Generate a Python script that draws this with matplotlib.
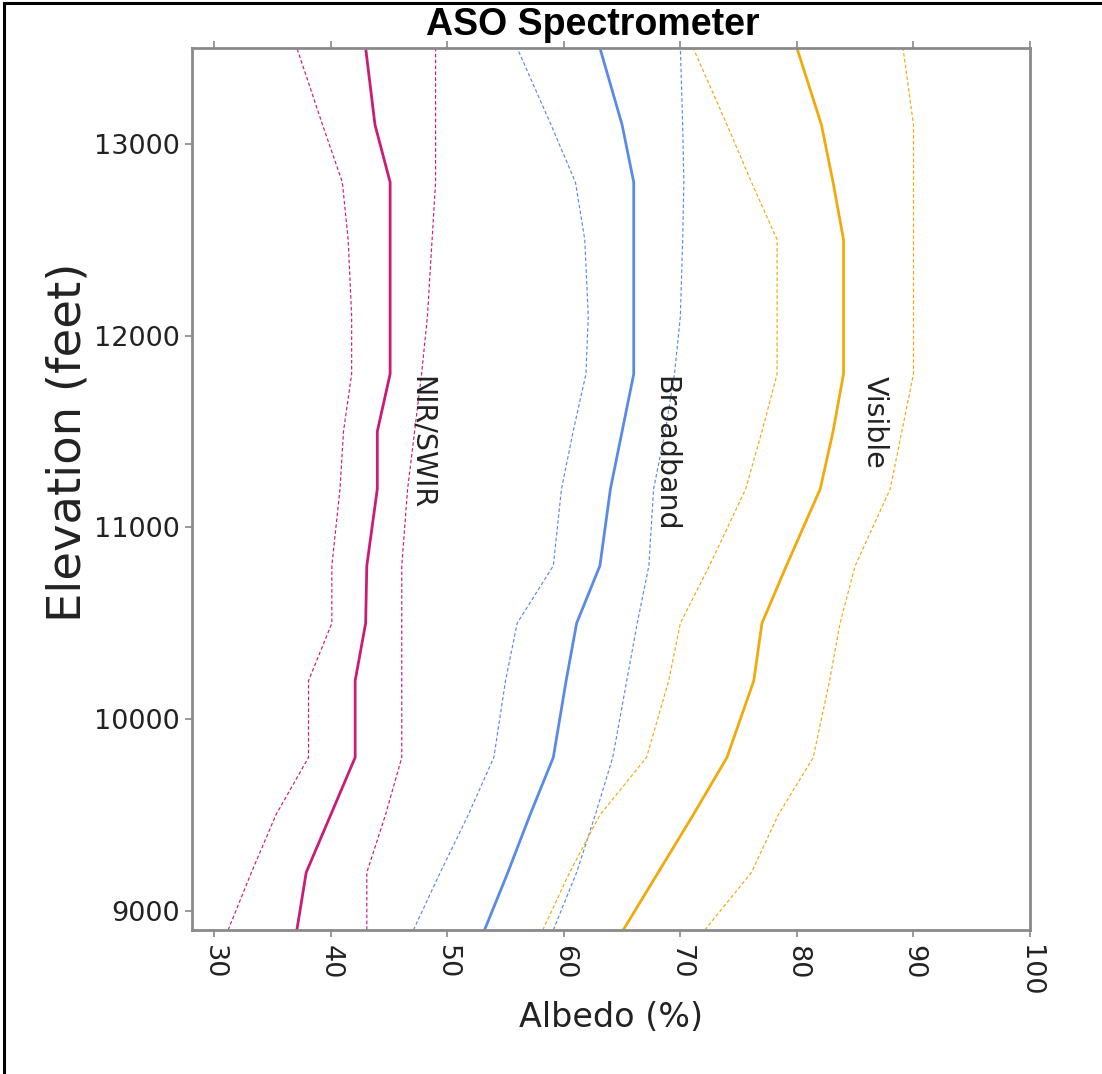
import numpy as np
import matplotlib
matplotlib.use("Agg")
import matplotlib.pyplot as plt
from matplotlib.lines import Line2D

# elevation bins (feet)
elev = [8900, 9200, 9500, 9800, 10200, 10500, 10800, 11200,
        11500, 11800, 12100, 12500, 12800, 13100, 13500]

# albedo (%) : mean and spread lines
nir_mean = [37.1, 37.9, 40.0, 42.1, 42.1, 43.0, 43.1, 44.0,
            44.0, 45.1, 45.1, 45.1, 45.1, 43.8, 43.0]
nir_low = [31.2, 33.2, 35.3, 38.1, 38.1, 40.1, 40.1, 40.8,
           41.1, 41.8, 41.8, 41.5, 41.0, 39.3, 37.1]
nir_high = [43.1, 43.1, 44.7, 46.1, 46.1, 46.1, 46.1, 46.6,
            47.2, 47.8, 48.3, 48.7, 49.0, 49.0, 49.0]

bb_mean = [53.2, 55.2, 57.1, 59.1, 60.2, 61.1, 63.1, 64.0,
           65.0, 66.0, 66.0, 66.0, 66.0, 65.0, 63.1]
bb_low = [47.1, 49.4, 51.8, 54.0, 55.0, 56.0, 59.1, 59.8,
          60.8, 61.9, 62.1, 61.8, 61.0, 58.9, 56.0]
bb_high = [59.1, 61.1, 62.7, 64.2, 65.4, 66.3, 67.3, 67.7,
           68.7, 69.5, 70.0, 70.2, 70.3, 70.2, 70.0]

vis_mean = [65.1, 68.1, 71.1, 74.0, 76.3, 77.0, 79.1, 82.0,
            83.1, 84.0, 84.0, 84.0, 83.1, 82.1, 80.0]
vis_low = [58.2, 60.5, 63.1, 67.1, 69.0, 70.0, 72.5, 75.6,
           77.0, 78.3, 78.3, 78.3, 76.1, 74.0, 71.1]
vis_high = [72.1, 76.1, 78.4, 81.4, 82.8, 83.7, 85.0, 88.0,
            89.0, 90.0, 90.0, 90.0, 90.0, 90.0, 89.1]

x_ticks = [30, 40, 50, 60, 70, 80, 90, 100]
y_ticks = [9000, 10000, 11000, 12000, 13000]

series = [
    ("NIR/SWIR", nir_mean, nir_low, nir_high, "#cc1a78", 47.8),
    ("Broadband", bb_mean, bb_low, bb_high, "#5a8ae8", 68.7),
    ("Visible", vis_mean, vis_low, vis_high, "#f2a90c", 86.7),
]

fig = plt.figure(figsize=(11.02, 10.74), dpi=100)
ax = fig.add_axes([0.1742, 0.1341, 0.7605, 0.8212])

for name, mean, low, high, col, xlab in series:
    ax.plot(mean, elev, color=col, lw=2.0)
    ax.plot(low, elev, color=col, lw=0.85, ls=(0, (3, 2)))
    ax.plot(high, elev, color=col, lw=0.85, ls=(0, (3, 2)))
    ax.text(xlab, 11790, name, rotation=270, ha="center", va="top",
            fontsize=20.5, color="#222222")

ax.set_xlim(28.1, 100)
ax.set_ylim(8900, 13500)
ax.set_xticks(x_ticks)
ax.set_yticks(y_ticks)
ax.set_xticklabels([str(t) for t in x_ticks], rotation=270)
ax.tick_params(axis="both", labelsize=19.5, colors="#888888",
               labelcolor="#222222", length=5, width=1.2)
ax.tick_params(axis="x", top=True, labeltop=False, pad=6)
for s in ax.spines.values():
    s.set_color("#8a8a8a")
    s.set_linewidth(2)

ax.set_xlabel("Albedo (%)", fontsize=24, color="#222222")
ax.xaxis.set_label_coords(0.5, -0.080)
ax.set_ylabel("Elevation (feet)", fontsize=33.5, color="#222222")
ax.yaxis.set_label_coords(-0.121, 0.553)

fig.text(0.538, 0.977, "ASO Spectrometer", ha="center", va="center",
         fontsize=27, fontweight="bold", family="Liberation Sans")

# screenshot frame edges
fig.add_artist(Line2D([0.004, 0.004], [0, 0.997], color="black", lw=2.2,
                      transform=fig.transFigure))
fig.add_artist(Line2D([0.004, 1.0], [0.997, 0.997], color="black", lw=2.2,
                      transform=fig.transFigure))

fig.savefig("out.png", dpi=100)
